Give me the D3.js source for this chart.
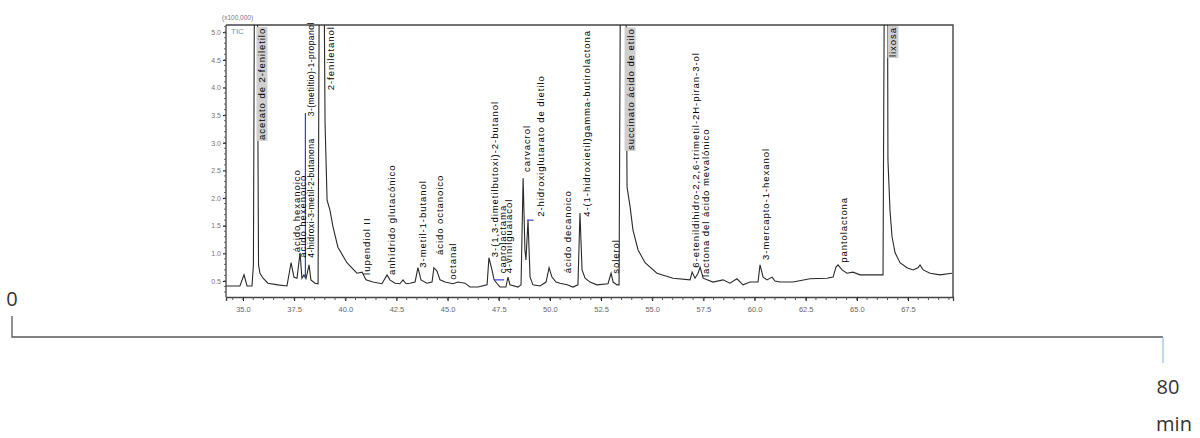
<!DOCTYPE html>
<html><head><meta charset="utf-8">
<script src="https://cdn.jsdelivr.net/npm/d3@7"></script>
<style>body{margin:0;background:#fff;}svg{display:block}</style>
</head><body><svg id="c" width="1200" height="438"></svg>
<script>
// retention time (min) and abundance (x100,000)
const retentionTimes = [
 34.17,34.85,35.05,35.20,35.44,35.51,35.59,35.68,35.73,35.76,
 35.83,35.98,36.22,36.71,37.15,37.35,37.49,37.64,37.79,37.88,
 37.98,38.08,38.23,38.32,38.52,38.67,38.76,38.91,39.01,39.11,
 39.25,39.40,39.64,40.08,40.57,40.82,41.01,41.35,41.79,42.04,
 42.18,42.43,42.67,42.82,42.97,43.16,43.41,43.55,43.70,43.99,
 44.24,44.33,44.48,44.63,44.87,45.26,45.51,45.85,46.09,46.49,
 46.93,47.02,47.17,47.27,47.56,47.85,47.95,48.05,48.44,48.59,
 48.69,48.78,48.83,48.93,49.03,49.17,49.52,49.81,49.96,50.10,
 50.30,50.49,50.84,51.13,51.37,51.47,51.57,51.72,51.96,52.30,
 52.84,52.99,53.09,53.28,53.38,53.48,53.67,53.77,53.92,54.06,
 54.31,54.65,55.23,56.02,56.85,56.95,57.09,57.24,57.34,57.49,
 57.97,58.46,58.80,59.14,59.44,59.78,60.17,60.27,60.42,60.61,
 60.86,61.00,61.25,61.88,62.71,63.54,63.84,63.98,64.08,64.28,
 64.52,64.81,65.16,65.64,66.28,66.38,66.48,66.52,66.62,66.72,
 66.87,67.11,67.45,67.75,67.99,68.09,68.24,68.58,69.07,69.65
];
const abundance = [
 0.41,0.41,0.61,0.41,0.41,0.79,9,9,3.10,0.79,
 0.64,0.55,0.46,0.43,0.41,0.83,0.57,0.55,1.01,0.55,
 0.61,0.54,0.79,0.52,0.46,0.45,9,9,3.36,1.96,
 1.78,1.48,1.11,0.83,0.64,0.66,0.52,0.48,0.45,0.61,
 0.52,0.46,0.45,0.52,0.45,0.46,0.48,0.74,0.52,0.46,
 0.48,0.74,0.68,0.52,0.48,0.45,0.48,0.46,0.39,0.39,
 0.43,0.92,0.70,0.52,0.39,0.39,0.57,0.43,0.39,0.43,
 2.36,1.06,0.88,1.60,0.57,0.43,0.41,0.48,0.74,0.57,
 0.48,0.46,0.43,0.39,0.43,1.73,0.70,0.55,0.48,0.43,
 0.45,0.64,0.48,0.43,0.43,9,9,2.20,1.84,1.42,
 1.06,0.83,0.64,0.55,0.52,0.66,0.55,0.64,0.75,0.55,
 0.48,0.52,0.46,0.54,0.43,0.48,0.48,0.79,0.57,0.52,
 0.57,0.50,0.48,0.48,0.54,0.55,0.57,0.75,0.79,0.70,
 0.64,0.66,0.61,0.61,0.61,9,9,2.69,1.78,1.30,
 1.01,0.83,0.74,0.70,0.74,0.79,0.70,0.64,0.61,0.64
];
// peak labels: compound, retention time, abundance where label starts
const compoundNames = [
 "acetato de 2-feniletilo","ácido hexanoico","ácido hexenoico","4-hidroxi-3-metil-2-butanona",
 "3-(metiltio)-1-propanol","2-feniletanol","lupendiol II","anhídrido glutacónico",
 "3-metil-1-butanol","ácido octanoico","octanal","3-(1,3-dimetilbutoxi)-2-butanol",
 "caprolactama","4-vinilguaiacol","carvacrol","2-hidroxiglutarato de dietilo",
 "ácido decanoico","4-(1-hidroxietil)gamma-butirolactona","solerol","succinato ácido de etilo",
 "6-etenildihidro-2,2,6-trimetil-2H-piran-3-ol","lactona del ácido mevalónico","3-mercapto-1-hexanol",
 "pantolactona","lixosa"
];
const compoundTimes = [
 35.93,37.64,37.93,38.32,38.32,39.30,41.06,42.28,43.80,44.63,45.26,47.32,
 47.71,48.00,48.88,49.52,50.84,51.81,53.23,53.92,57.14,57.63,60.56,64.33,66.77
];
const labelLevels = [
 3.05,1.02,0.92,0.92,3.48,3.95,0.61,0.61,0.74,0.97,0.52,0.93,
 0.64,0.64,2.47,1.66,0.64,1.66,0.63,2.87,0.74,0.57,0.88,0.83,4.55
];
const highlighted = ["acetato de 2-feniletilo","succinato ácido de etilo","lixosa"];
const stacked = ["4-hidroxi-3-metil-2-butanona","3-(metiltio)-1-propanol"];
const xTickValues = [35.0,37.5,40.0,42.5,45.0,47.5,50.0,52.5,55.0,57.5,60.0,62.5,65.0,67.5];
const yTickValues = [0.5,1.0,1.5,2.0,2.5,3.0,3.5,4.0,4.5,5.0];
const runRange = [0, 80];
// integration markers (time start, time end, abundance)
const markerSegments = [[47.27,47.76,0.52],[48.88,49.20,1.60]];
const markerVertical = [38.05, 0.55, 3.54];

const svg = d3.select("#c");
const L=226,R=953,T=25,B=297;
const x = d3.scaleLinear().domain([34.17,69.70]).range([L,R]);
const y = d3.scaleLinear().domain([0.21,5.13]).range([B,T]);

svg.append("defs").append("clipPath").attr("id","pc")
  .append("rect").attr("x",L).attr("y",T).attr("width",R-L).attr("height",B-T);

// frame
svg.append("path").attr("d",`M${L},${T}H${R}V${B}`).attr("fill","none").attr("stroke","#444").attr("stroke-width",1.4);

// axes
const minorX = d3.range(34.5,69.6,0.5);
const xAxis = d3.axisBottom(x).tickValues(xTickValues).tickFormat(d3.format(".1f")).tickSize(4).tickPadding(6);
const gx = svg.append("g").attr("transform",`translate(0,${B})`).call(xAxis);
gx.append("g").selectAll("line").data(minorX).join("line")
  .attr("x1",d=>x(d)).attr("x2",d=>x(d)).attr("y1",0).attr("y2",3).attr("stroke","#555");
gx.select(".domain").attr("stroke","#444").attr("stroke-width",1.3);
gx.selectAll("text").attr("fill","#666").style("font","7.5px 'Liberation Sans',Arial");

const minorY = d3.range(0.3,5.11,0.1);
const yAxis = d3.axisLeft(y).tickValues(yTickValues).tickFormat(d3.format(".1f")).tickSize(3).tickPadding(2);
const gy = svg.append("g").attr("transform",`translate(${L},0)`).call(yAxis);
gy.append("g").selectAll("line").data(minorY).join("line")
  .attr("x1",0).attr("x2",-2).attr("y1",d=>y(d)).attr("y2",d=>y(d)).attr("stroke","#666");
gy.select(".domain").attr("stroke","#444").attr("stroke-width",1.3).attr("d",`M0,${T}V${B}`);
gy.selectAll("text").attr("fill","#777").style("font","7px 'Liberation Sans',Arial");

svg.append("text").attr("x",L-4).attr("y",T-5).text("(x100,000)")
  .attr("fill","#777").style("font","6.5px 'Liberation Sans',Arial");
svg.append("text").attr("x",L+5).attr("y",T+9).text("TIC")
  .attr("fill","#7a8fb8").style("font","8px 'Liberation Sans',Arial");

// trace
const pts = retentionTimes.map((t,i)=>[t,abundance[i]]);
svg.append("path").datum(pts).attr("clip-path","url(#pc)")
  .attr("d",d3.line().x(d=>x(d[0])).y(d=>y(d[1])))
  .attr("fill","none").attr("stroke","#2a2a2a").attr("stroke-width",1.1);

// markers
svg.selectAll(".mk").data(markerSegments).join("line")
  .attr("x1",d=>x(d[0])).attr("x2",d=>x(d[1])).attr("y1",d=>y(d[2])).attr("y2",d=>y(d[2]))
  .attr("stroke","#3b3bd6").attr("stroke-width",1.2);
svg.append("line").attr("x1",x(markerVertical[0])).attr("x2",x(markerVertical[0]))
  .attr("y1",y(markerVertical[1])).attr("y2",y(markerVertical[2]))
  .attr("stroke","#3b3bd6").attr("stroke-width",1.2);

// labels
const lg = svg.append("g");
compoundNames.forEach((n,i)=>{
  const st = stacked.includes(n);
  const fs = st ? 8.5 : 9.5, ls = st ? 0.45 : 0.95;
  const px = x(compoundTimes[i]) + fs*0.36, py = y(labelLevels[i]);
  const g = lg.append("g").attr("transform",`translate(${px},${py}) rotate(-90)`);
  const t = g.append("text").text(n).attr("x",0).attr("y",0)
    .attr("fill","#000").style("font",`${fs}px 'Liberation Sans',Arial`).style("letter-spacing",`${ls}px`);
  const len = t.node().getComputedTextLength();
  if(len > py - 2){ t.attr("textLength", py - 2).attr("lengthAdjust","spacingAndGlyphs"); }
  if(highlighted.includes(n)){
    const bb=t.node().getBBox();
    g.insert("rect","text").attr("x",bb.x-1).attr("y",bb.y).attr("width",bb.width+2).attr("height",bb.height)
      .attr("fill","#cfcfcf");
  }
});

// overall run range bracket
const xo = d3.scaleLinear().domain(runRange).range([12,1163]);
svg.append("path").attr("d",`M${xo(0)},316V337H${xo(80)}`).attr("fill","none").attr("stroke","#595959").attr("stroke-width",1.3);
svg.append("line").attr("x1",xo(80)).attr("x2",xo(80)).attr("y1",337).attr("y2",363).attr("stroke","#9dc3e6").attr("stroke-width",1.3);
svg.append("text").attr("x",xo(0)).attr("y",306).attr("text-anchor","middle").text(runRange[0])
  .attr("fill","#333").style("font","20px 'Open Sans',Arial");
svg.append("text").attr("x",xo(80)+5).attr("y",394).attr("text-anchor","middle").text(runRange[1])
  .attr("fill","#333").style("font","20px 'Open Sans',Arial");
svg.append("text").attr("x",xo(80)+11).attr("y",431).attr("text-anchor","middle").text("min")
  .attr("fill","#333").style("font","20px 'Open Sans',Arial");
</script></body></html>
